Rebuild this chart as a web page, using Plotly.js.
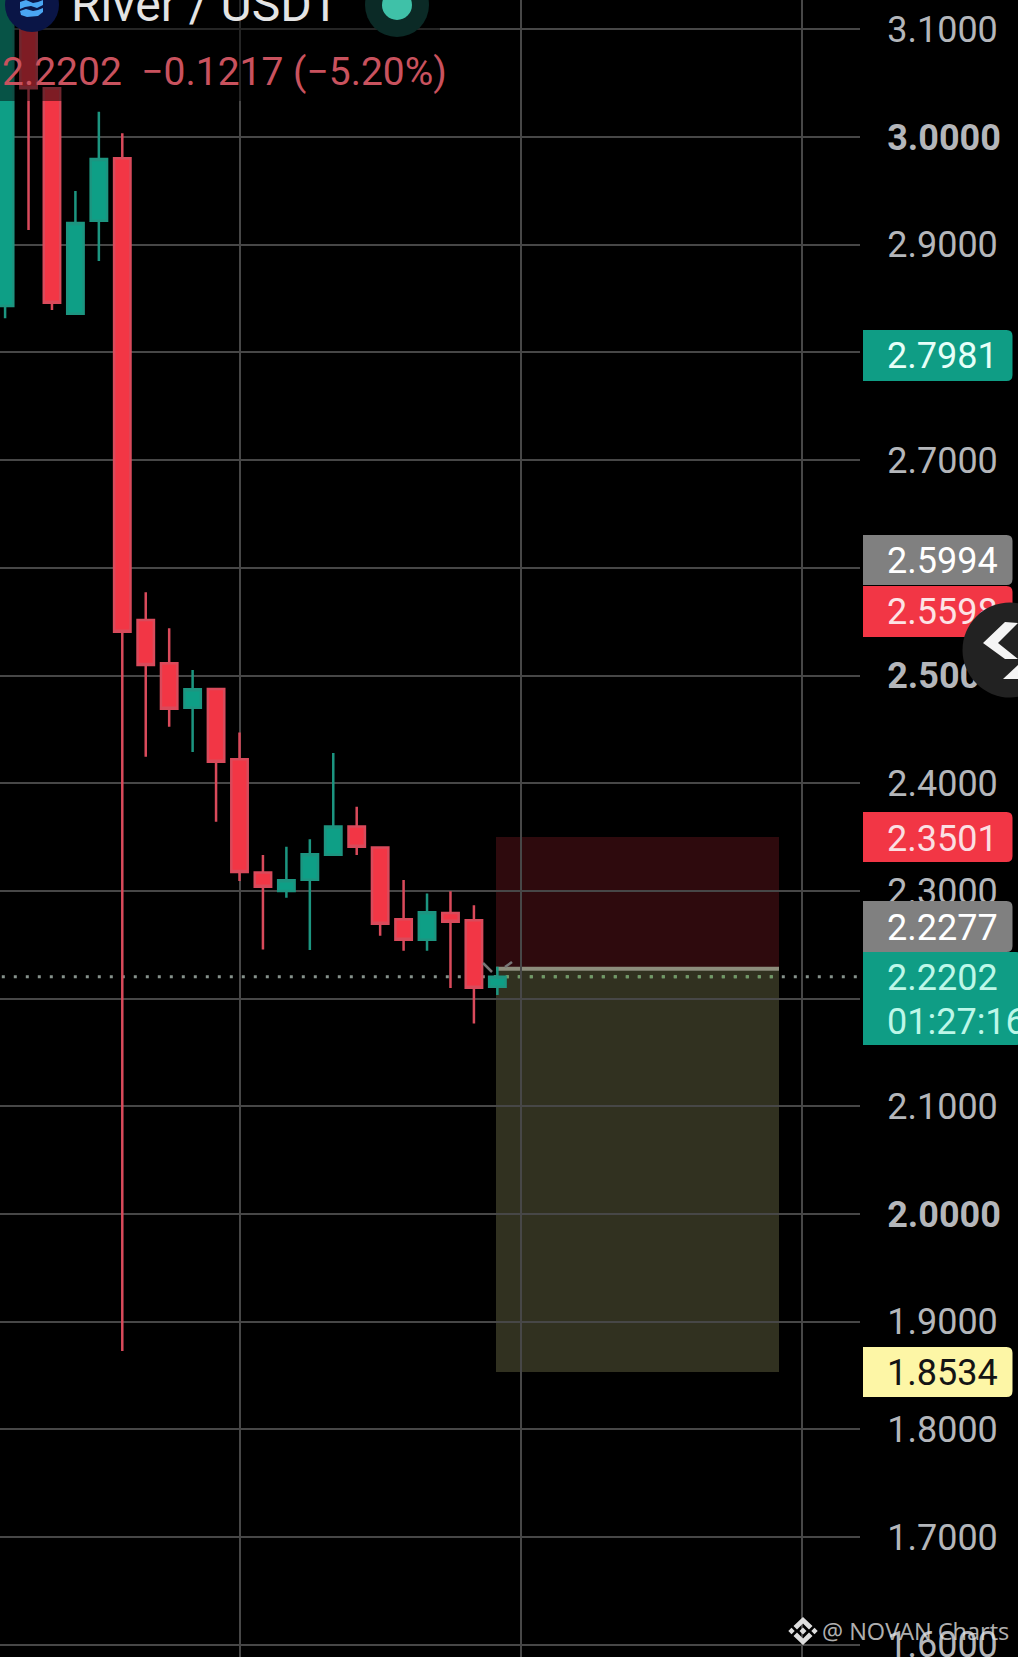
<!DOCTYPE html>
<html>
<head>
<meta charset="utf-8">
<script src="https://cdn.plot.ly/plotly-3.0.1.min.js"></script>
<style>
html,body{margin:0;padding:0;background:#000;overflow:hidden}
#wrap{position:relative;width:1018px;height:1657px;overflow:hidden}
#overlay{position:absolute;left:0;top:0;pointer-events:none}
</style>
</head>
<body>
<div id="wrap">
<div id="chart" style="width:1018px;height:1657px"></div>
<svg id="overlay" width="1018" height="1657">
  <circle cx="1010" cy="650" r="47.5" fill="#222222"/>
  <polygon points="1005,622 983,643 1005,659 1018,659 998,643 1018,623" fill="#f4f4f4"/>
  <polygon points="1003,679 1018,665 1018,679" fill="#f4f4f4"/>
</svg>
</div>
<script>
const candleIndex = [-5,-4,-3,-2,-1,0,1,2,3,4,5,6,7,8,9,10,11,12,13,14,15,16];
const opens  = [2.8431,3.1100,3.0452,2.8360,2.9223,2.9802,2.5515,2.5113,2.4701,2.4875,2.4222,2.3172,2.2999,2.3104,2.3336,2.3599,2.3404,2.2736,2.2547,2.2795,2.2727,2.2111];
const closes = [3.1600,3.0452,2.8462,2.9201,2.9796,2.5407,2.5097,2.4692,2.4872,2.4200,2.3175,2.3039,2.3098,2.3340,2.3599,2.3411,2.2696,2.2547,2.2801,2.2714,2.2101,2.2202];
const highs  = [3.1600,3.1300,3.0452,2.9499,3.0235,3.0034,2.5772,2.5438,2.5051,2.4875,2.4472,2.3333,2.3411,2.3479,2.4280,2.3782,2.3411,2.3101,2.2977,2.2996,2.2866,2.2296];
const lows   = [2.8316,2.9136,2.8394,2.8360,2.8849,1.8728,2.4246,2.4525,2.4290,2.3643,2.3092,2.2457,2.2937,2.2451,2.3336,2.3333,2.2584,2.2445,2.2445,2.2098,2.1770,2.2033];

const gridTicks = [3.1,3.0,2.9,2.8,2.7,2.6,2.5,2.4,2.3,2.2,2.1,2.0,1.9,1.8,1.7,1.6];
const boldTicks = [3.0,2.5,2.0];
const timeTicks = [5,17,29];

const stopPrice = 2.3501, entryPrice = 2.2277, targetPrice = 1.8534, lastPrice = 2.2202;

const priceTags = ['2.7981','2.5994','2.5598','2.3501','2.2277','2.2202','1.8534'];
const tagFill   = ['#0f9d85','#808080','#f23645','#f23645','#808080','#0f9d85','#fdf6a6'];
const tagInk    = ['#e6fff8','#ffffff','#fde3e5','#fbdfe2','#ffffff','#bdf7e8','#141414'];
const tagTop    = [330,535,586,812,901,952,1347];
const tagBottom = [381,585,637,862,952,1045,1397];
const tagText   = [356,561,612,839,928,978,1373];

const W = 860, H = 1657;
const X = p => p / W, Y = p => 1 - p / H;
const kRange = [-5.217, 31.47], yRange = [1.5887, 3.1272];

function rounded(x0, y0, x1, y1, r, fill) {
  const P = (a, b) => X(a) + ' ' + Y(b);
  return {type:'path', xref:'paper', yref:'paper', layer:'above', fillcolor:fill, line:{width:0},
    path:`M${P(x0,y0)} L${P(x1-r,y0)} Q${P(x1,y0)} ${P(x1,y0+r)} L${P(x1,y1-r)} Q${P(x1,y1)} ${P(x1-r,y1)} L${P(x0,y1)} Z`};
}
function circle(cx, cy, r, fill) {
  return {type:'circle', xref:'paper', yref:'paper', layer:'above', fillcolor:fill, line:{width:0},
    x0:X(cx-r), x1:X(cx+r), y0:Y(cy+r), y1:Y(cy-r)};
}
function poly(points, fill) {
  return {type:'path', xref:'paper', yref:'paper', layer:'above', fillcolor:fill, line:{width:0},
    path:'M' + points.map(p => X(p[0]) + ' ' + Y(p[1])).join(' L') + ' Z'};
}
function seg(x0, y0, x1, y1, color, w) {
  return {type:'line', xref:'paper', yref:'paper', layer:'above', line:{color:color, width:w},
    x0:X(x0), x1:X(x1), y0:Y(y0), y1:Y(y1)};
}
function diamond(cx, cy, r, fill) { return poly([[cx,cy-r],[cx+r,cy],[cx,cy+r],[cx-r,cy]], fill); }

const shapes = [
  {type:'rect', xref:'paper', yref:'y', layer:'below', x0:X(496), x1:X(779), y0:entryPrice, y1:stopPrice,
   fillcolor:'rgba(242,54,69,0.19)', line:{width:0}},
  {type:'rect', xref:'paper', yref:'y', layer:'below', x0:X(496), x1:X(779), y0:targetPrice, y1:entryPrice,
   fillcolor:'rgba(150,150,96,0.33)', line:{width:0}},
  {type:'line', xref:'paper', yref:'y', layer:'below', x0:X(496), x1:X(779), y0:entryPrice, y1:entryPrice,
   line:{color:'#8d8d7c', width:4}},
  {type:'line', xref:'paper', yref:'y', layer:'below', x0:X(1.8), x1:1, y0:lastPrice, y1:lastPrice,
   line:{color:'#86928c', width:3, dash:'3px,9px'}},
  {type:'line', xref:'paper', yref:'y', layer:'below', x0:X(505.8), x1:X(779), y0:lastPrice, y1:lastPrice,
   line:{color:'#6f9a63', width:3, dash:'3px,9px'}},
  seg(483,963,492,972,'#777777',2.5),
  seg(505,967,512,962,'#777777',2.5),
  {type:'rect', xref:'paper', yref:'paper', layer:'above', x0:0, x1:X(440), y0:Y(101), y1:1,
   fillcolor:'rgba(0,0,0,0.48)', line:{width:0}},
  circle(32, 5, 27, '#0a1546'),
  poly([[20,2],[26,0],[33,3],[38,2],[43,0],[43,5],[37,8],[31,6],[25,7],[20,9]], '#4aa6f2'),
  poly([[20,11],[26,9],[33,11],[38,10],[43,8],[43,12],[38,16],[27,17],[21,15]], '#4aa6f2'),
  circle(397, 5, 32, '#0b2a26'),
  circle(397, 5, 15, '#3fc1a8'),
  poly([[803,1617],[812.5,1626],[809,1629.5],[803,1623.5],[797,1629.5],[793.5,1626]], '#dddddd'),
  poly([[803,1645],[812.5,1636],[809,1632.5],[803,1638.5],[797,1632.5],[793.5,1636]], '#dddddd'),
  diamond(791.5,1631,3.2,'#dddddd'),
  diamond(814.5,1631,3.2,'#dddddd'),
  diamond(803,1631,3.5,'#dddddd')
];
priceTags.forEach((t, i) => {
  const right = t === '2.2202' ? 1022 : 1012.5;
  shapes.push(rounded(863, tagTop[i], right, tagBottom[i], 6, tagFill[i]));
});

const annotations = priceTags.map((t, i) => ({
  xref:'paper', yref:'paper', x:X(886.5), y:Y(tagText[i]), xanchor:'left', yanchor:'middle',
  text:t, showarrow:false, borderpad:0, font:{family:'Roboto', size:36, color:tagInk[i]}
}));
annotations.push(
  {xref:'paper', yref:'paper', x:X(886.5), y:Y(1022), xanchor:'left', yanchor:'middle', text:'01:27:16',
   showarrow:false, borderpad:0, font:{family:'Roboto', size:36, color:'#bdf7e8'}},
  {xref:'paper', yref:'paper', x:X(70), y:Y(4), xanchor:'left', yanchor:'middle', text:'River / USDT',
   showarrow:false, borderpad:0, font:{family:'Roboto', size:48, color:'#e4e4e4'}},
  {xref:'paper', yref:'paper', x:X(1), y:Y(72.5), xanchor:'left', yanchor:'middle',
   text:'2.2202  \u22120.1217 (\u22125.20%)', showarrow:false, borderpad:0,
   font:{family:'Roboto', size:39, color:'#c9525e'}},
  {xref:'paper', yref:'paper', x:X(821), y:Y(1631), xanchor:'left', yanchor:'middle', text:'@ NOVAN Charts',
   showarrow:false, borderpad:0, font:{family:'Open Sans', size:23.5, color:'rgba(225,225,225,0.8)'}}
);

const trace = {
  type:'candlestick', x:candleIndex, open:opens, high:highs, low:lows, close:closes,
  increasing:{line:{color:'#1c9580', width:2.5}, fillcolor:'#0e9f86'},
  decreasing:{line:{color:'#d94a5b', width:2.5}, fillcolor:'#f23645'},
  hoverinfo:'skip', whiskerwidth:0
};

const layout = {
  width:1018, height:1657, margin:{l:0, r:158, t:0, b:0, pad:0},
  paper_bgcolor:'#000', plot_bgcolor:'#000', showlegend:false, boxgap:0.3, boxgroupgap:0,
  xaxis:{range:kRange, type:'linear', tickmode:'array', tickvals:timeTicks, showticklabels:false,
    showgrid:true, gridcolor:'#474747', gridwidth:2, zeroline:false, showline:false, ticks:'',
    rangeslider:{visible:false}, fixedrange:true},
  yaxis:{range:yRange, side:'right', tickmode:'array', tickvals:gridTicks,
    ticktext:gridTicks.map(v => boldTicks.includes(v) ? '<b>'+v.toFixed(4)+'</b>' : v.toFixed(4)),
    tickfont:{family:'Roboto', size:36, color:'#b4b6ba'}, showgrid:true, gridcolor:'#474747', gridwidth:2,
    zeroline:false, showline:false, ticks:'outside', ticklen:19, tickwidth:1, tickcolor:'rgba(0,0,0,0)', tickpad:3,
    ticklabeloverflow:'allow', automargin:false, fixedrange:true},
  shapes:shapes, annotations:annotations
};
Plotly.newPlot('chart', [trace], layout, {displayModeBar:false, staticPlot:true});
</script>
</body>
</html>
